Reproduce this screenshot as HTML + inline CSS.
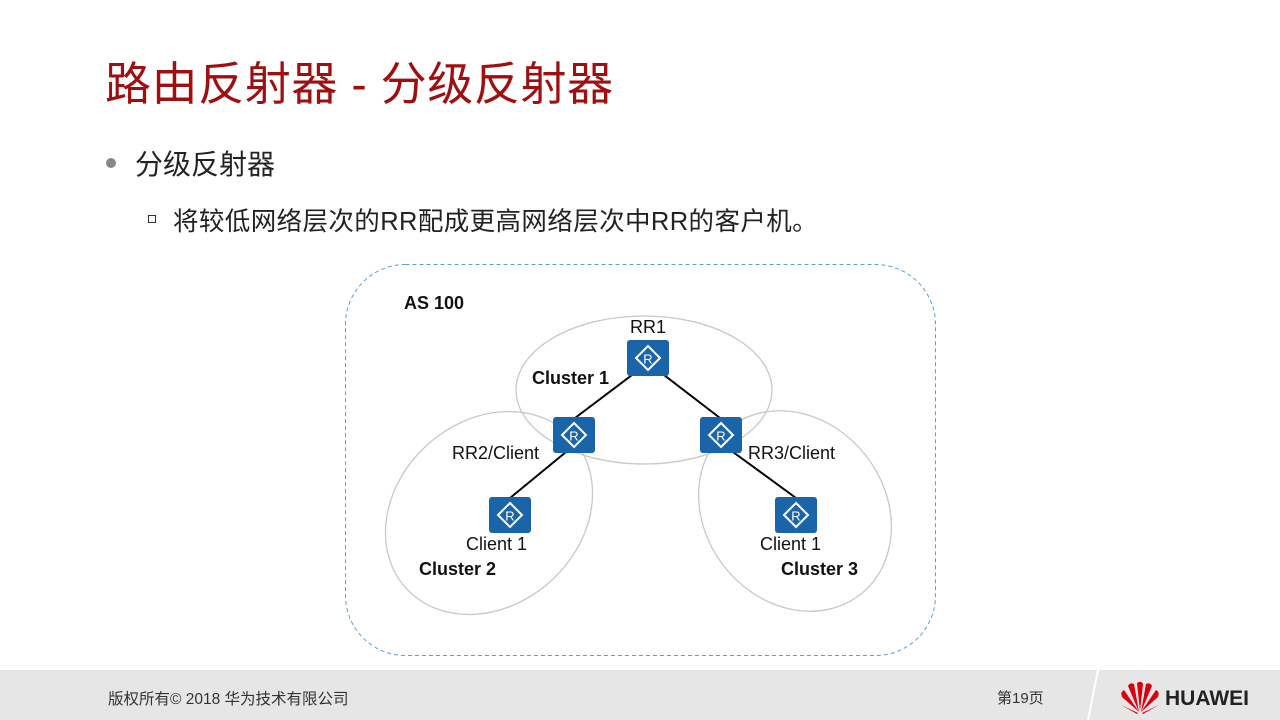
<!DOCTYPE html>
<html><head><meta charset="utf-8"><style>
body{margin:0;width:1280px;height:720px;overflow:hidden;background:#fff;font-family:"Liberation Sans","Noto Sans CJK SC",sans-serif;position:relative}
.t{position:absolute;white-space:nowrap}
</style></head><body>
<div class="t" style="left:105px;top:48px;font-size:46px;letter-spacing:0.6px;color:#a00f0f;">路由反射器 - 分级反射器</div>
<div style="position:absolute;left:106px;top:158px;width:10px;height:10px;border-radius:50%;background:#888"></div>
<div class="t" style="left:135px;top:143px;font-size:28px;color:#222">分级反射器</div>
<div style="position:absolute;left:148px;top:215px;width:6px;height:6px;border:1.5px solid #333"></div>
<div class="t" style="left:173px;top:201px;font-size:25.5px;letter-spacing:0.4px;color:#222">将较低网络层次的RR配成更高网络层次中RR的客户机。</div>
<svg style="position:absolute;left:0;top:0" width="1280" height="720">
<rect x="345.5" y="264.5" width="590" height="391" rx="60" fill="none" stroke="#5aa0cc" stroke-dasharray="4 3"/>
<ellipse cx="644" cy="390" rx="128" ry="74" fill="none" stroke="#c8c8c8" stroke-width="1.3"/>
<ellipse cx="489" cy="513" rx="112" ry="92" transform="rotate(-42 489 513)" fill="none" stroke="#c8c8c8" stroke-width="1.3"/>
<ellipse cx="795" cy="511" rx="106" ry="90" transform="rotate(52 795 511)" fill="none" stroke="#c8c8c8" stroke-width="1.3"/>
<g stroke="#000" stroke-width="2">
<line x1="632" y1="375" x2="575" y2="418"/><line x1="664" y1="375" x2="720" y2="418"/>
<line x1="566" y1="452" x2="510" y2="498"/><line x1="733" y1="452" x2="796" y2="498"/>
</g>
<defs><g id="r"><rect x="0" y="0" width="42" height="36" rx="3" fill="#1a64aa"/><path d="M21 6 L33 18 L21 30 L9 18Z" fill="none" stroke="#fff" stroke-width="2"/><text x="21" y="23.5" font-size="13" fill="#fff" text-anchor="middle" font-family="Liberation Sans">R</text></g></defs>
<use href="#r" x="627" y="340"/><use href="#r" x="553" y="417"/><use href="#r" x="700" y="417"/>
<use href="#r" x="489" y="497"/><use href="#r" x="775" y="497"/>
<g font-family="Liberation Sans" font-size="18" fill="#111">
<text x="404" y="309" font-weight="bold">AS 100</text>
<text x="630" y="333">RR1</text>
<text x="532" y="384" font-weight="bold">Cluster 1</text>
<text x="452" y="459">RR2/Client</text>
<text x="748" y="459">RR3/Client</text>
<text x="466" y="550">Client 1</text>
<text x="760" y="550">Client 1</text>
<text x="419" y="575" font-weight="bold">Cluster 2</text>
<text x="781" y="575" font-weight="bold">Cluster 3</text>
</g>
<rect x="0" y="670" width="1280" height="50" fill="#e6e6e6"/>
<line x1="1098" y1="670" x2="1088" y2="720" stroke="#fff" stroke-width="2"/>
<g fill="#d7000f">
<path d="M1139 712 L1122 697 Q1120 692 1124 690Z"/><path d="M1139 712 L1128 686 Q1130 682 1134 684Z"/>
<path d="M1140 711 L1137 683 Q1141 680 1143 684Z"/><path d="M1141 712 L1152 686 Q1150 682 1146 684Z"/>
<path d="M1141 712 L1158 697 Q1160 692 1156 690Z"/><path d="M1138 713 L1121 705 L1137 714Z"/><path d="M1142 713 L1159 705 L1143 714Z"/>
</g>
<text x="1165" y="705" font-family="Liberation Sans" font-size="21" font-weight="bold" fill="#222">HUAWEI</text>
</svg>
<div class="t" style="left:108px;top:687px;font-size:15.5px;color:#333">版权所有© 2018 华为技术有限公司</div>
<div class="t" style="left:997px;top:687px;font-size:15px;color:#333">第19页</div>
</body></html>
